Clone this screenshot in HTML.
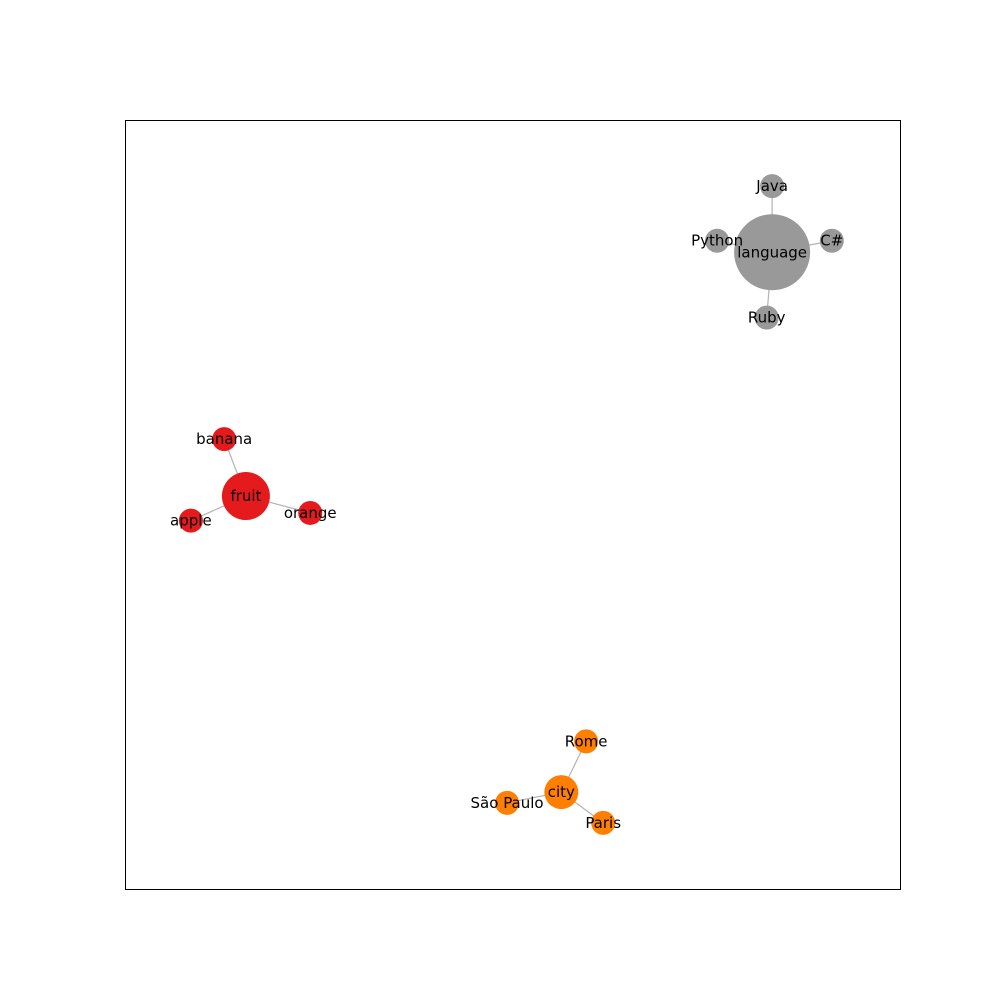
<!DOCTYPE html>
<html><head><meta charset="utf-8"><style>
body{margin:0;background:#fff}
svg text{font-family:"DejaVu Sans","Liberation Sans",sans-serif;font-size:15px;fill:#000}
</style></head><body>
<svg id="chart" width="1000" height="1000" xmlns="http://www.w3.org/2000/svg">
<rect x="0" y="0" width="1000" height="1000" fill="#fff"/>
<rect x="125.5" y="120.5" width="775" height="769" fill="none" stroke="#000" stroke-width="1"/>
<g id="edges"></g><g id="nodes"></g><g id="labels"></g>
</svg>
<script>
const nodeNames=["language","Java","Python","C#","Ruby","fruit","banana","apple","orange","city","Rome","São Paulo","Paris"];
const nodeX=[0.835,0.835,0.764,0.912,0.828,0.156,0.128,0.085,0.239,0.563,0.595,0.493,0.617];
const nodeY=[0.828,0.914,0.843,0.843,0.743,0.511,0.585,0.479,0.489,0.126,0.192,0.112,0.086];
const nodeGroup=["language","language","language","language","language","fruit","fruit","fruit","fruit","city","city","city","city"];
const nodeDegree=[4,1,1,1,1,3,1,1,1,3,1,1,1];
const edgeFrom=["language","language","language","language","fruit","fruit","fruit","city","city","city"];
const edgeTo=["Java","Python","C#","Ruby","banana","apple","orange","Rome","São Paulo","Paris"];
const groupColors={language:"#999999",fruit:"#e41a1c",city:"#ff7f00"};
const X0=125,W=775,Y1=889,H=769;
const sx=v=>X0+v*W, sy=v=>Y1-v*H;
const radius=d=>d>=4?38:d>=3?(nodeGroup&&0)||0:12;
function r(i){const d=nodeDegree[i];if(d===1)return 12;return nodeGroup[i]==="fruit"?24:nodeGroup[i]==="city"?17:38;}
const NS="http://www.w3.org/2000/svg";
const eg=document.getElementById('edges'),ng=document.getElementById('nodes'),lg=document.getElementById('labels');
edgeFrom.forEach((f,k)=>{
 const a=nodeNames.indexOf(f),b=nodeNames.indexOf(edgeTo[k]);
 const l=document.createElementNS(NS,'line');
 l.setAttribute('x1',sx(nodeX[a]));l.setAttribute('y1',sy(nodeY[a]));
 l.setAttribute('x2',sx(nodeX[b]));l.setAttribute('y2',sy(nodeY[b]));
 l.setAttribute('stroke','#b3b3b3');l.setAttribute('stroke-width','1.2');
 
 
 eg.appendChild(l);
});
nodeNames.forEach((n,i)=>{
 const c=document.createElementNS(NS,'circle');
 c.setAttribute('cx',sx(nodeX[i]));c.setAttribute('cy',sy(nodeY[i]));c.setAttribute('r',r(i));
 c.setAttribute('fill',groupColors[nodeGroup[i]]);
 
 
 ng.appendChild(c);
 const t=document.createElementNS(NS,'text');
 t.setAttribute('x',sx(nodeX[i]));t.setAttribute('y',sy(nodeY[i]));
 t.setAttribute('text-anchor','middle');t.setAttribute('dominant-baseline','central');
 t.textContent=n;
 
 
 lg.appendChild(t);
});
</script>
</body></html>
